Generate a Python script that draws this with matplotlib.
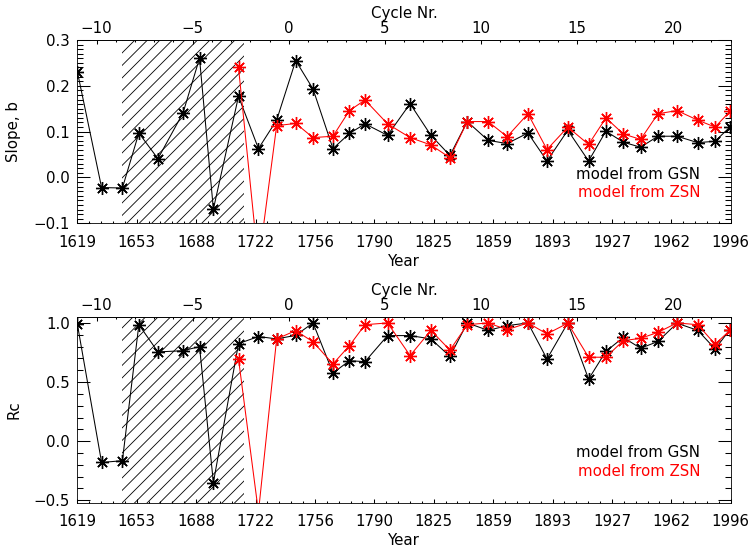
import numpy as np
import matplotlib
matplotlib.use("Agg")
import matplotlib.pyplot as plt
from matplotlib.ticker import FixedLocator, MultipleLocator

# cycle-start years (x positions of the points)
years = [1619, 1633, 1645, 1654.5, 1665.5, 1680, 1689.5, 1697.5, 1712, 1723.5,
         1734, 1745, 1755, 1766.5, 1776, 1785, 1798, 1811, 1823, 1834,
         1844, 1856, 1867, 1879, 1890, 1902, 1914, 1924, 1934, 1944,
         1954, 1965, 1977, 1987, 1995.5]
years_zsn = years[8:]

slope_gsn = [0.231, -0.022, -0.023, 0.097, 0.041, 0.141, 0.260, -0.069, 0.177, 0.063,
             0.125, 0.255, 0.193, 0.063, 0.096, 0.117, 0.092, 0.161, 0.092, 0.048,
             0.122, 0.081, 0.074, 0.097, 0.036, 0.103, 0.036, 0.101, 0.077, 0.066,
             0.090, 0.090, 0.076, 0.079, 0.110]
slope_zsn = [0.240, -0.19, 0.113, 0.118, 0.087, 0.090, 0.146, 0.169, 0.117, 0.087,
             0.071, 0.043, 0.122, 0.122, 0.089, 0.139, 0.061, 0.110, 0.072, 0.130,
             0.095, 0.083, 0.139, 0.146, 0.125, 0.110, 0.144]

rc_gsn = [0.99, -0.18, -0.165, 0.985, 0.755, 0.765, 0.80, -0.35, 0.825, 0.885,
          0.865, 0.895, 1.0, 0.577, 0.68, 0.673, 0.893, 0.893, 0.865, 0.717,
          1.0, 0.937, 0.977, 1.0, 0.695, 1.0, 0.525, 0.76, 0.877, 0.786,
          0.843, 0.998, 0.937, 0.78, 0.943]
rc_zsn = [0.695, -0.6, 0.865, 0.935, 0.84, 0.653, 0.808, 0.985, 1.0, 0.724,
          0.937, 0.77, 0.985, 1.0, 0.943, 1.0, 0.907, 0.998, 0.71, 0.71,
          0.85, 0.87, 0.92, 1.0, 0.985, 0.82, 0.937]

year_labels = ['1619', '1653', '1688', '1722', '1756', '1790', '1825',
               '1859', '1893', '1927', '1962', '1996']
cycle_ticks = [-10, -5, 0, 5, 10, 15, 20]
maunder = (1645, 1715)

Y0, Y1 = 1619, 1996
C0, C1 = -11, 23


def year2cyc(y):
    return C0 + (np.asarray(y, dtype=float) - Y0) * (C1 - C0) / (Y1 - Y0)


def cyc2year(c):
    return Y0 + (np.asarray(c, dtype=float) - C0) * (Y1 - Y0) / (C1 - C0)


DPI = 75
FS = 14.4
plt.rcParams['font.family'] = 'DejaVu Sans'
plt.rcParams['font.size'] = FS
plt.rcParams['hatch.linewidth'] = 0.8

fig = plt.figure(figsize=(753 / DPI, 553 / DPI), dpi=DPI)
ax_top = fig.add_axes([0.1027, 0.5962, 0.8677, 0.3315])
ax_bot = fig.add_axes([0.1027, 0.0910, 0.8677, 0.3353])

mk = dict(marker=(8, 2, 0), ms=12.5, mew=1.3, lw=1.0)


def setup(ax, gsn, zsn, ylim, ymajor, yminor, ylabel):
    ax.axvspan(*maunder, facecolor='none', edgecolor='k', hatch='//', lw=0)
    ax.plot(years, gsn, color='k', **mk)
    ax.plot(years_zsn, zsn, color='red', **mk)
    ax.set_xlim(Y0, Y1)
    ax.set_ylim(*ylim)
    ax.xaxis.set_major_locator(FixedLocator(np.linspace(Y0, Y1, 12)))
    ax.set_xticklabels(year_labels)
    ax.xaxis.set_minor_locator(FixedLocator(np.linspace(Y0, Y1, 56)))
    ax.yaxis.set_major_locator(MultipleLocator(ymajor))
    ax.yaxis.set_minor_locator(MultipleLocator(yminor))
    ax.tick_params(axis='x', which='major', direction='in', length=4, width=1,
                   top=False, pad=11)
    ax.tick_params(axis='x', which='minor', direction='in', length=2, width=1, top=False)
    ax.tick_params(axis='y', which='major', direction='in', length=12.5, width=1,
                   right=True, pad=7)
    ax.tick_params(axis='y', which='minor', direction='in', length=6.2, width=1, right=True)
    ax.set_xlabel('Year')
    ax.xaxis.set_label_coords(0.5, -0.165)
    ax.set_ylabel(ylabel)
    ax.yaxis.set_label_coords(-0.086, 0.5)

    sec = ax.secondary_xaxis('top', functions=(year2cyc, cyc2year))
    sec.set_xticks(cycle_ticks)
    sec.xaxis.set_minor_locator(MultipleLocator(1))
    sec.tick_params(which='major', direction='in', length=4, width=1, pad=4)
    sec.tick_params(which='minor', direction='in', length=2, width=1)
    sec.set_xlabel('Cycle Nr.', labelpad=3)

    ax.text(0.953, 0.268, 'model from GSN', color='k', ha='right', va='center',
            transform=ax.transAxes)
    ax.text(0.953, 0.166, 'model from ZSN', color='red', ha='right', va='center',
            transform=ax.transAxes)


setup(ax_top, slope_gsn, slope_zsn, (-0.1, 0.3), 0.1, 0.01, 'Slope, b')
setup(ax_bot, rc_gsn, rc_zsn, (-0.52, 1.048), 0.5, 0.1, 'Rc')

fig.savefig('out.png', dpi=DPI)
